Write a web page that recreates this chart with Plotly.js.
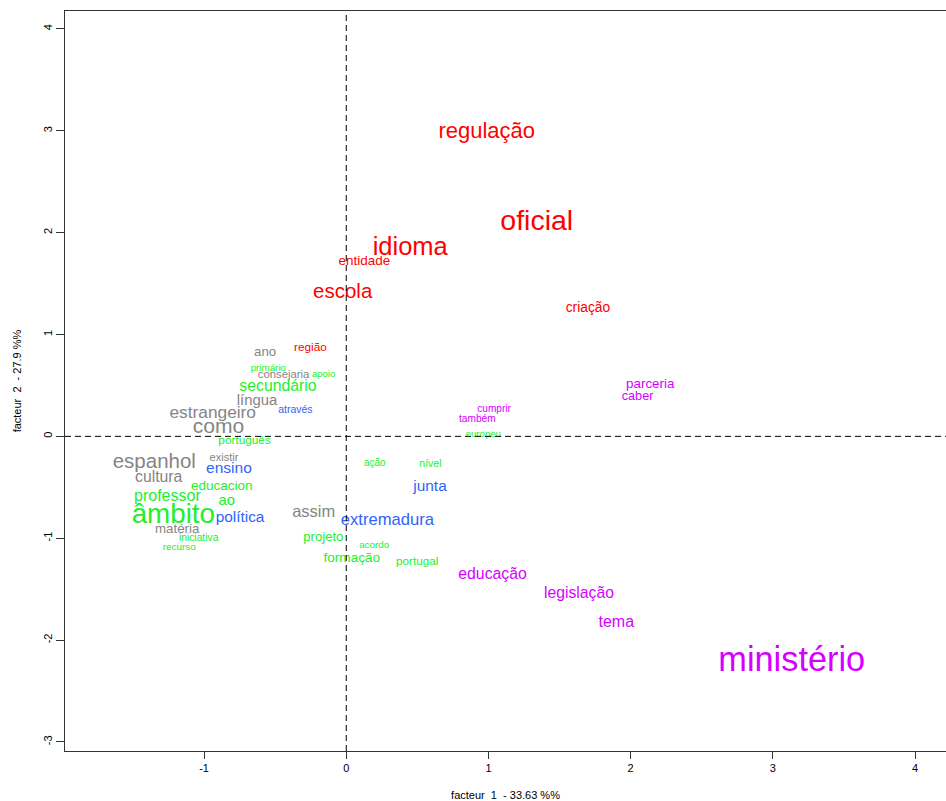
<!DOCTYPE html>
<html>
<head>
<meta charset="utf-8">
<script src="https://cdn.plot.ly/plotly-3.0.1.min.js"></script>
<style>html,body{margin:0;padding:0;background:#fff;}#chart{width:946px;height:801px;}</style>
</head>
<body>
<div id="chart"></div>
<script>
// Words of the correspondence analysis map
const words = ["regulação","oficial","idioma","entidade","escola","criação","região",
  "parceria","caber","cumprir","também","educação","legislação","tema","ministério",
  "primário","apoio","secundário","português","educacion","professor","ao","âmbito","iniciativa","recurso",
  "ação","nível","europeu","projeto","acordo","formação","portugal",
  "ano","consejaria","língua","estrangeiro","como","espanhol","existir","cultura","matéria","assim",
  "através","ensino","política","junta","extremadura"];
// Factor 1 coordinates
const factor1 = [0.988,1.34,0.45,0.127,-0.025,1.70,-0.252,
  2.138,2.049,1.04,0.922,1.029,1.637,1.899,3.133,
  -0.548,-0.159,-0.48,-0.715,-0.876,-1.258,-0.84,-1.216,-1.038,-1.175,
  0.201,0.592,0.964,-0.161,0.196,0.039,0.499,
  -0.571,-0.441,-0.627,-0.939,-0.898,-1.35,-0.86,-1.319,-1.189,-0.229,
  -0.358,-0.825,-0.747,0.589,0.289];
// Factor 2 coordinates
const factor2 = [2.98,2.097,1.842,1.712,1.412,1.259,0.867,
  0.505,0.386,0.263,0.164,-1.362,-1.550,-1.830,-2.215,
  0.664,0.606,0.480,-0.051,-0.497,-0.593,-0.634,-0.784,-1.006,-1.087,
  -0.271,-0.277,0.022,-0.998,-1.076,-1.199,-1.231,
  0.820,0.600,0.344,0.219,0.082,-0.261,-0.218,-0.405,-0.921,-0.754,
  0.250,-0.322,-0.806,-0.498,-0.834];
// Text size (weight) of each word
const weight = [22,28.5,25.5,13.5,20.5,13.8,11.8,
  13.4,12.7,10.1,10.2,15.8,15.7,16,34.3,
  9.8,9.5,15.8,11.8,13.5,16,15,27.8,10.3,9.9,
  10,10.5,9.6,13.1,9.8,13.6,11.7,
  13.2,11.3,14.9,17.3,21.1,20.5,11.1,15.8,13.3,16.5,
  10.4,15.5,15.4,15.4,16.6];
// Cluster of each word
const cluster = [0,0,0,0,0,0,0,
  4,4,4,4,4,4,4,4,
  2,2,2,2,2,2,2,2,2,2,
  2,2,2,2,2,2,2,
  1,1,1,1,1,1,1,1,1,1,
  3,3,3,3,3];
const clusterColors = ["#FF0000","#858585","#22F02A","#2E64FE","#D600FF"];

const xTicks = [-1,0,1,2,3,4];
const yTicks = [-3,-2,-1,0,1,2,3,4];
const xTitle = "facteur  1  - 33.63 %%";
const yTitle = "facteur  2  - 27.9 %%";

const trace = {
  type: "scatter",
  mode: "text",
  x: factor1,
  y: factor2,
  text: words,
  textposition: "middle center",
  textfont: {
    family: "Liberation Sans, Arial, sans-serif",
    size: weight,
    color: cluster.map(c => clusterColors[c])
  },
  hoverinfo: "text",
  showlegend: false
};

const axisFont = {family: "Liberation Sans Narrow, Liberation Sans, Arial, sans-serif", size: 11, color: "#000"};

const layout = {
  width: 946,
  height: 801,
  margin: {l: 65, r: 0, t: 11, b: 50, pad: 0},
  paper_bgcolor: "#fff",
  plot_bgcolor: "#fff",
  font: axisFont,
  xaxis: {
    range: [-1.978, 4.218],
    tickvals: xTicks,
    ticktext: xTicks.map(String),
    showgrid: false,
    zeroline: false,
    showline: true,
    mirror: true,
    linecolor: "#333",
    linewidth: 1,
    ticks: "outside",
    ticklen: 7,
    tickcolor: "#333",
    tickfont: axisFont,
    title: {text: xTitle, font: axisFont, standoff: 19}
  },
  yaxis: {
    range: [-3.089, 4.176],
    tickvals: yTicks,
    ticktext: yTicks.map(String),
    tickangle: -90,
    showgrid: false,
    zeroline: false,
    showline: true,
    linecolor: "#333",
    linewidth: 1,
    ticks: "outside",
    ticklen: 8,
    tickcolor: "#333",
    tickfont: axisFont,
    title: {text: yTitle, font: axisFont, standoff: 17}
  },
  shapes: [
    {type: "line", xref: "x", yref: "paper", x0: 0, x1: 0, y0: 0, y1: 1,
     line: {color: "#000", width: 1, dash: "6px,4px"}},
    {type: "line", xref: "paper", yref: "y", x0: 0, x1: 1, y0: 0, y1: 0,
     line: {color: "#000", width: 1, dash: "6px,4px"}}
  ]
};

Plotly.newPlot("chart", [trace], layout, {displayModeBar: false, staticPlot: true});
</script>
</body>
</html>
